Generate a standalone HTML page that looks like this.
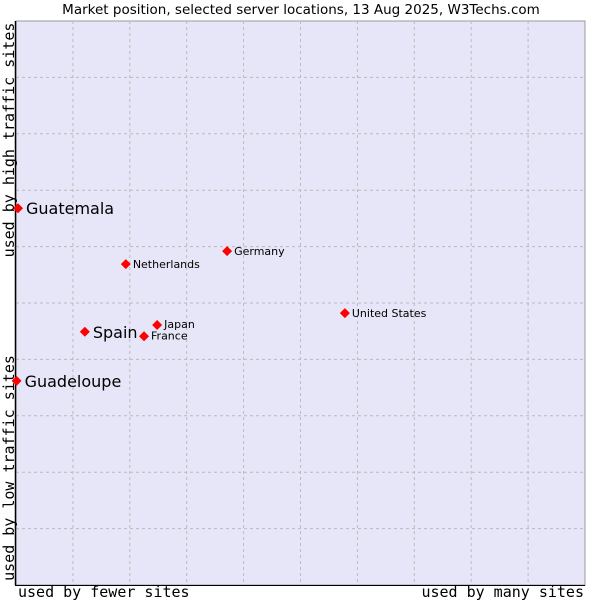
<!DOCTYPE html>
<html><head><meta charset="utf-8"><style>body{margin:0;background:#fff}svg{display:block}</style></head>
<body>
<svg width="600" height="600" xmlns="http://www.w3.org/2000/svg" font-family="DejaVu Sans, Liberation Sans, sans-serif">
<text x="301" y="14" text-anchor="middle" font-size="13.5" fill="#000">Market position, selected server locations, 13 Aug 2025, W3Techs.com</text>
<rect x="16" y="21" width="569" height="564" fill="#e6e6f8" stroke="#999" stroke-width="1"/>
<g id="grid"></g>
<line x1="15.5" y1="21" x2="15.5" y2="585" stroke="#000" stroke-width="1.5"/>
<line x1="15" y1="585.5" x2="585" y2="585.5" stroke="#000" stroke-width="1"/>
<g id="points"></g>
<text transform="translate(14,140) rotate(-90)" text-anchor="middle" font-family="DejaVu Sans Mono, Liberation Mono, monospace" font-size="15">used by high traffic sites</text>
<text transform="translate(14,468) rotate(-90)" text-anchor="middle" font-family="DejaVu Sans Mono, Liberation Mono, monospace" font-size="15">used by low traffic sites</text>
<text x="18" y="597" font-family="DejaVu Sans Mono, Liberation Mono, monospace" font-size="15">used by fewer sites</text>
<text x="584" y="597" text-anchor="end" font-family="DejaVu Sans Mono, Liberation Mono, monospace" font-size="15">used by many sites</text>
</svg>
<script>
const countries = ["Guatemala","Guadeloupe","Spain","Netherlands","Germany","Japan","France","United States"];
const xValues = [0.35, 0.1, 12.1, 19.3, 37.1, 24.8, 22.5, 57.8];
const yValues = [66.8, 36.2, 44.9, 56.9, 59.2, 46.1, 44.1, 48.2];
const bigLabel = [true, true, true, false, false, false, false, false];
const labelDy = [0, 0, 0, 0, 0, -1, -1, 0];
const NS = "http://www.w3.org/2000/svg";
const L=16,R=585,T=21,B=585;
const xs = v => L + v/100*(R-L);
const ys = v => B - v/100*(B-T);
const grid = document.getElementById('grid');
for (let i=1;i<10;i++){
  const x = L + i*(R-L)/10, y = T + i*(B-T)/10;
  const v = document.createElementNS(NS,'line');
  v.setAttribute('x1',x);v.setAttribute('x2',x);v.setAttribute('y1',T);v.setAttribute('y2',B);
  v.setAttribute('stroke','#bbb');v.setAttribute('stroke-dasharray','3,3');
  
  
  grid.appendChild(v);
  const h = document.createElementNS(NS,'line');
  h.setAttribute('y1',y);h.setAttribute('y2',y);h.setAttribute('x1',L);h.setAttribute('x2',R);
  h.setAttribute('stroke','#bbb');h.setAttribute('stroke-dasharray','3,3');
  
  
  grid.appendChild(h);
}
const pts = document.getElementById('points');
countries.forEach((c,i)=>{
  const x = xs(xValues[i]), y = ys(yValues[i]);
  const p = document.createElementNS(NS,'path');
  p.setAttribute('d',`M${x-5},${y} L${x},${y-5} L${x+5},${y} L${x},${y+5} Z`);
  p.setAttribute('fill','#ff0000');
  
  
  pts.appendChild(p);
  const t = document.createElementNS(NS,'text');
  t.setAttribute('x', x + (bigLabel[i]?8:7));
  t.setAttribute('y', y + (bigLabel[i]?6:4) + labelDy[i]);
  t.setAttribute('font-size', bigLabel[i]?16:11);
  t.textContent = c;
  
  
  pts.appendChild(t);
});
</script>
</body></html>
